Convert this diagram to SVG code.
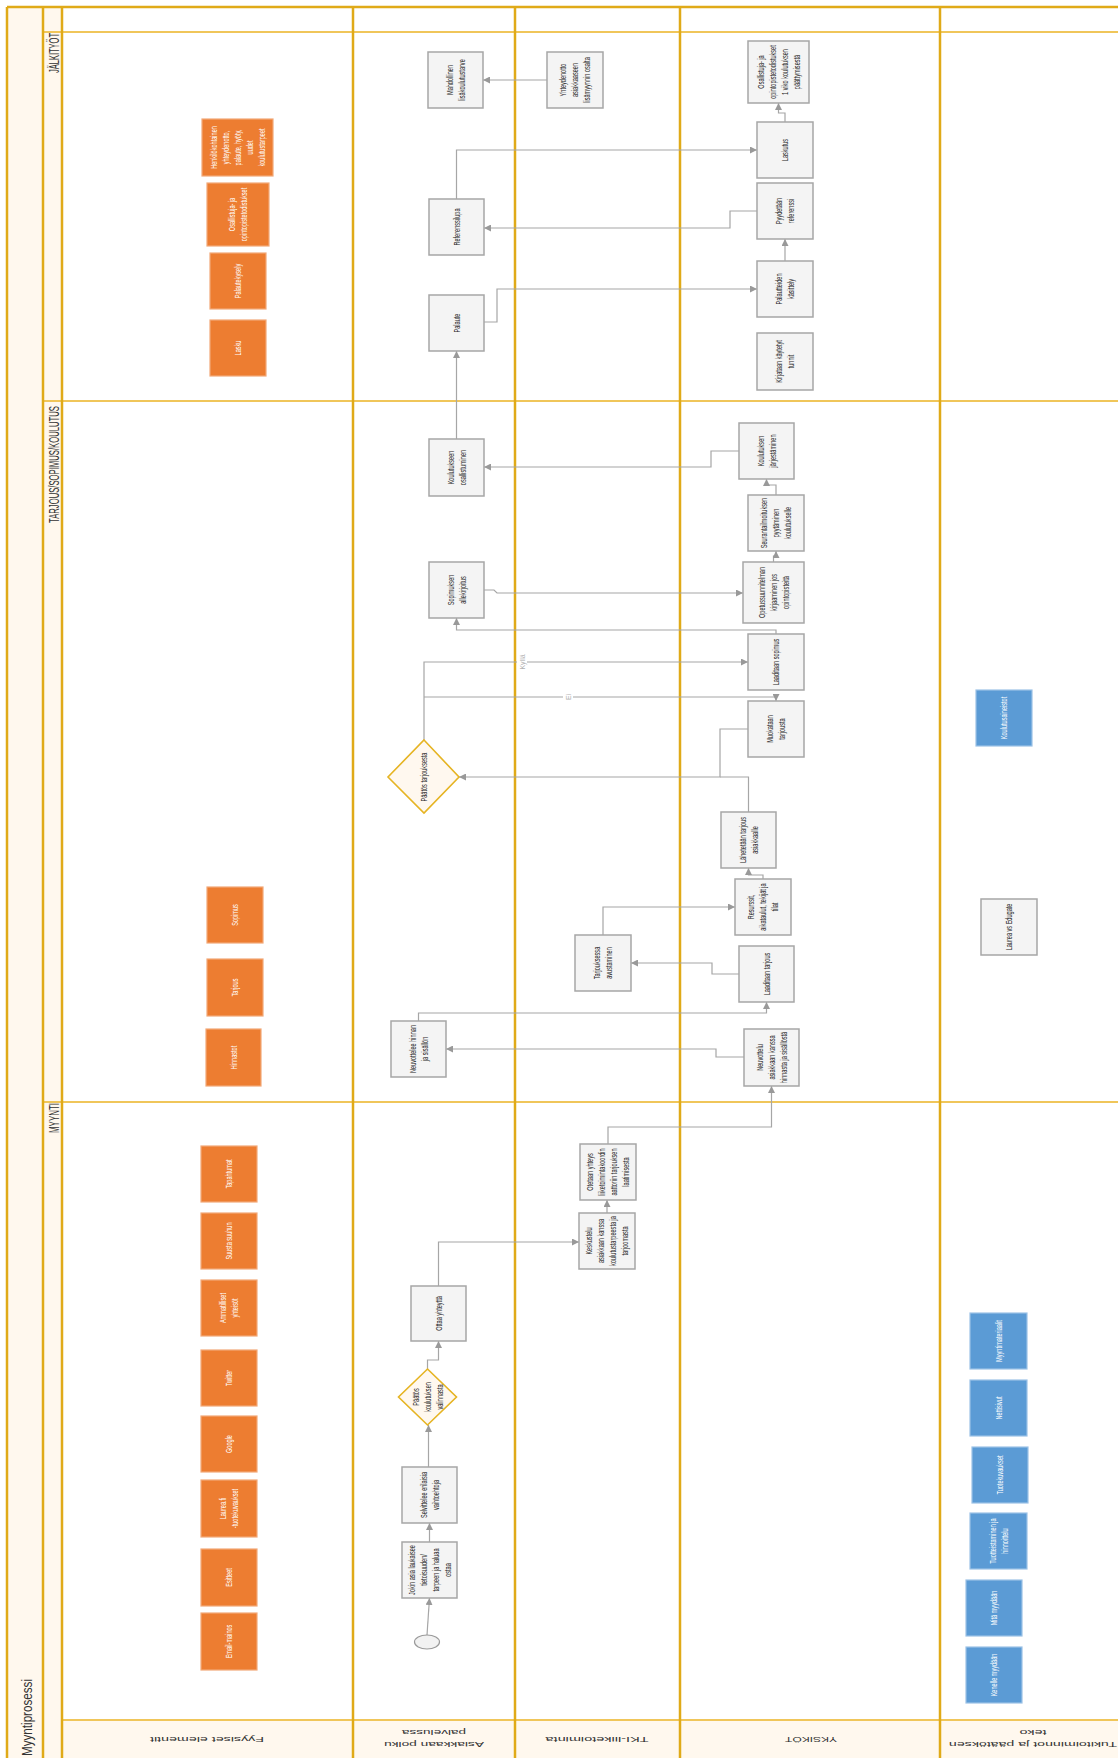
<svg xmlns="http://www.w3.org/2000/svg" width="1118" height="1758" viewBox="0 0 1118 1758">
<style>
.bg{fill:#fff}
.cream{fill:#FFF8EE}
.vl{stroke:#E0AA18;stroke-width:2.5;fill:none}
.hl{stroke:#F0C65A;stroke-width:2;fill:none}
.box{fill:#F4F4F4;stroke:#A6A6A6;stroke-width:1.5}
.or{fill:#ED7D31;stroke:#F2A878;stroke-width:1.2}
.bl{fill:#5B9BD5;stroke:#9CC2E6;stroke-width:1.2}
.dia{fill:#FFF8EF;stroke:#E6B422;stroke-width:1.6}
.t{font-family:"Liberation Sans",Arial,sans-serif;font-size:9px;fill:#262626;text-anchor:middle}
.w{fill:#fff}
.ph{font-family:"Liberation Sans",Arial,sans-serif;font-size:14px;fill:#333}
.ln{font-family:"Liberation Sans",Arial,sans-serif;font-size:12px;fill:#333;text-anchor:middle}
.c{fill:none;stroke:#A6A6A6;stroke-width:1.2;marker-end:url(#ah)}
.cn{fill:none;stroke:#A6A6A6;stroke-width:1.2}
.el{font-family:"Liberation Sans",Arial,sans-serif;font-size:7px;fill:#B0B0B0;text-anchor:middle}
</style>
<defs>
<marker id="ah" markerUnits="userSpaceOnUse" markerWidth="8" markerHeight="7" refX="7" refY="3.5" orient="auto">
<path d="M0,0 L7,3.5 L0,7 z" fill="#999"/>
</marker>
</defs>

<g id="pool">
<rect class="bg" x="7" y="7" width="1130" height="1760"/>
<rect class="cream" x="7" y="7" width="36" height="1760"/>
<rect class="cream" x="43" y="7" width="19" height="1760"/>
<rect class="cream" x="62" y="1720" width="1075" height="45"/>
<path class="hl" d="M43,32 H1137 M43,401 H1137 M43,1102 H1137 M62,1720 H1137"/>
<path class="vl" d="M7,7 H1137 M7,7 V1765 M43,7 V1765 M62,7 V1765 M353,7 V1765 M515,7 V1765 M680,7 V1765 M940,7 V1765"/>
</g>

<g id="labels">
<text class="ph" transform="translate(32 1756) rotate(-90) scale(1 1)" font-size="19" textLength="77" lengthAdjust="spacingAndGlyphs">Myyntiprosessi</text>
<text class="ph" transform="translate(59 73) rotate(-90)" textLength="40" lengthAdjust="spacingAndGlyphs">JÄLKITYÖT</text>
<text class="ph" transform="translate(59 523) rotate(-90)" textLength="117" lengthAdjust="spacingAndGlyphs">TARJOUS/SOPIMUS/KOULUTUS</text>
<text class="ph" transform="translate(59 1133) rotate(-90)" textLength="30" lengthAdjust="spacingAndGlyphs">MYYNTI</text>
<text class="ln" transform="translate(207 1740) rotate(180) scale(1 0.62)" y="4.2" textLength="114" lengthAdjust="spacingAndGlyphs">Fyysiset elementit</text>
<text class="ln" transform="translate(434 1739) rotate(180) scale(1 0.62)"><tspan x="0" y="-4.7" textLength="100" lengthAdjust="spacingAndGlyphs">Asiakkaan polku</tspan><tspan x="0" y="13.9" textLength="64" lengthAdjust="spacingAndGlyphs">palvelussa</tspan></text>
<text class="ln" transform="translate(597 1740) rotate(180) scale(1 0.62)" y="4.2" textLength="103" lengthAdjust="spacingAndGlyphs">TKI-liiketoiminta</text>
<text class="ln" transform="translate(811 1740) rotate(180) scale(1 0.62)" y="4.2" textLength="52" lengthAdjust="spacingAndGlyphs">YKSIKÖT</text>
<text class="ln" transform="translate(1033 1739) rotate(180) scale(1 0.62)"><tspan x="0" y="-4.7" textLength="168" lengthAdjust="spacingAndGlyphs">Tukitoiminnot ja päätöksen</tspan><tspan x="0" y="13.9" textLength="27" lengthAdjust="spacingAndGlyphs">teko</tspan></text>
</g>

<g id="connectors">
<path class="c" d="M547,80 H483"/>
<path class="c" d="M456.5,199 V150 H757"/>
<path class="c" d="M757,211 H730 V228 H484"/>
<path class="c" d="M484,322 H497 V289 H757"/>
<path class="c" d="M785,261 V239"/>
<path class="c" d="M785,122 V113 H778.5 V103"/>
<path class="c" d="M456.5,439 V351"/>
<path class="c" d="M739,451 H711 V467 H484"/>
<path class="c" d="M776,495 V485 H766.5 V479"/>
<path class="c" d="M773.5,562 V556 H776 V551"/>
<path class="c" d="M484,590 H494 L497,593 H743"/>
<path class="c" d="M776,634 V630 H456.5 V618"/>
<path class="c" d="M424,740 V662 H748"/>
<path class="c" d="M424,697 H776 V701"/>
<path class="c" d="M748,729 H720 V777 H459"/>
<path class="cn" d="M748.5,812 V777 H720"/>
<path class="c" d="M763,879 V875 H748.5 V868"/>
<path class="c" d="M603,935 V907 H735"/>
<path class="c" d="M739,974 H712 V963 H631"/>
<path class="c" d="M418.5,1021 V1013 H766.5 V1002"/>
<path class="c" d="M744,1057 H716 V1049 H446"/>
<path class="c" d="M608,1144 V1127 H771.5 V1086"/>
<path class="c" d="M607,1213 V1200"/>
<path class="c" d="M438.5,1286 V1242 H579"/>
<path class="c" d="M427.5,1369 V1360 H438.5 V1341"/>
<path class="c" d="M428.5,1467 V1425"/>
<path class="c" d="M429.5,1542 V1523"/>
<path class="c" d="M427,1635 L429.5,1598"/>
<rect x="517" y="651" width="10" height="22" fill="#fff"/>
<text class="el" transform="translate(524.5 662) rotate(-90)">Kyllä</text>
<rect x="563" y="690" width="10" height="14" fill="#fff"/>
<text class="el" transform="translate(570.5 697) rotate(-90)">Ei</text>
</g>

<g id="nodes">
<g id="o-henkilokohtainen"><rect class="or" x="202" y="119" width="71" height="57"/><text class="t w" transform="translate(237.5 147.5) rotate(-90) scale(0.62 1)"><tspan x="0" y="-20.8">Henkilökohtainen</tspan><tspan x="0" y="-8.8">yhteydenotto,</tspan><tspan x="0" y="3.2">palaute, hyöty,</tspan><tspan x="0" y="15.2">uudet</tspan><tspan x="0" y="27.2">koulutustarpeet</tspan></text></g>
<g id="o-todistukset"><rect class="or" x="207" y="183" width="62" height="63"/><text class="t w" transform="translate(238 214.5) rotate(-90) scale(0.62 1)"><tspan x="0" y="-2.8">Osallistuja- ja</tspan><tspan x="0" y="9.2">opintopistetodistukset</tspan></text></g>
<g id="o-palautekysely"><rect class="or" x="210" y="253" width="56" height="56"/><text class="t w" transform="translate(238 281) rotate(-90) scale(0.62 1)" y="3.2">Palautekysely</text></g>
<g id="o-lasku"><rect class="or" x="210" y="320" width="56" height="56"/><text class="t w" transform="translate(238 348) rotate(-90) scale(0.62 1)" y="3.2">Lasku</text></g>
<g id="o-sopimus"><rect class="or" x="207" y="887" width="56" height="56"/><text class="t w" transform="translate(235 915) rotate(-90) scale(0.62 1)" y="3.2">Sopimus</text></g>
<g id="o-tarjous"><rect class="or" x="207" y="959" width="56" height="57"/><text class="t w" transform="translate(235 987.5) rotate(-90) scale(0.62 1)" y="3.2">Tarjous</text></g>
<g id="o-hinnastot"><rect class="or" x="206" y="1029" width="55" height="57"/><text class="t w" transform="translate(233.5 1057.5) rotate(-90) scale(0.62 1)" y="3.2">Hinnastot</text></g>
<g id="o-tapahtumat"><rect class="or" x="201" y="1146" width="56" height="56"/><text class="t w" transform="translate(229 1174) rotate(-90) scale(0.62 1)" y="3.2">Tapahtumat</text></g>
<g id="o-suusta"><rect class="or" x="201" y="1213" width="56" height="56"/><text class="t w" transform="translate(229 1241) rotate(-90) scale(0.62 1)" y="3.2">Suusta suuhun</text></g>
<g id="o-ammatilliset"><rect class="or" x="201" y="1280" width="56" height="56"/><text class="t w" transform="translate(229 1308) rotate(-90) scale(0.62 1)"><tspan x="0" y="-2.8">Ammatilliset</tspan><tspan x="0" y="9.2">yhteisöt</tspan></text></g>
<g id="o-twitter"><rect class="or" x="201" y="1350" width="56" height="56"/><text class="t w" transform="translate(229 1378) rotate(-90) scale(0.62 1)" y="3.2">Twitter</text></g>
<g id="o-google"><rect class="or" x="201" y="1416" width="56" height="56"/><text class="t w" transform="translate(229 1444) rotate(-90) scale(0.62 1)" y="3.2">Google</text></g>
<g id="o-laureafi"><rect class="or" x="201" y="1480" width="56" height="57"/><text class="t w" transform="translate(229 1508.5) rotate(-90) scale(0.62 1)"><tspan x="0" y="-2.8">Laurea.fi</tspan><tspan x="0" y="9.2">-tuotekuvaukset</tspan></text></g>
<g id="o-esitteet"><rect class="or" x="201" y="1549" width="56" height="57"/><text class="t w" transform="translate(229 1577.5) rotate(-90) scale(0.62 1)" y="3.2">Esitteet</text></g>
<g id="o-email"><rect class="or" x="201" y="1613" width="56" height="57"/><text class="t w" transform="translate(229 1641.5) rotate(-90) scale(0.62 1)" y="3.2">Email-mainos</text></g>

<g id="n-mahdollinen"><rect class="box" x="428" y="52" width="55" height="56"/><text class="t" transform="translate(455.5 80) rotate(-90) scale(0.62 1)"><tspan x="0" y="-2.8">Mahdollinen</tspan><tspan x="0" y="9.2">lisäkoulutustarve</tspan></text></g>
<g id="n-referenssilupa"><rect class="box" x="429" y="199" width="55" height="56"/><text class="t" transform="translate(456.5 227) rotate(-90) scale(0.62 1)" y="3.2">Referenssilupa</text></g>
<g id="n-palaute"><rect class="box" x="429" y="295" width="55" height="56"/><text class="t" transform="translate(456.5 323) rotate(-90) scale(0.62 1)" y="3.2">Palaute</text></g>
<g id="n-yhteydenotto"><rect class="box" x="547" y="52" width="56" height="56"/><text class="t" transform="translate(575 80) rotate(-90) scale(0.62 1)"><tspan x="0" y="-8.8">Yhteydenotto</tspan><tspan x="0" y="3.2">asiakkaaseen</tspan><tspan x="0" y="15.2">lisämyynnin osalta</tspan></text></g>
<g id="n-todistukset"><rect class="box" x="748" y="41" width="61" height="62"/><text class="t" transform="translate(778.5 72) rotate(-90) scale(0.62 1)"><tspan x="0" y="-14.8">Osallistuja- ja</tspan><tspan x="0" y="-2.8">opintopistetodistukset</tspan><tspan x="0" y="9.2">1 viko koulutuksen</tspan><tspan x="0" y="21.2">päättymisestä</tspan></text></g>
<g id="n-laskutus"><rect class="box" x="757" y="122" width="56" height="56"/><text class="t" transform="translate(785 150) rotate(-90) scale(0.62 1)" y="3.2">Laskutus</text></g>
<g id="n-pyydetaan"><rect class="box" x="757" y="183" width="56" height="56"/><text class="t" transform="translate(785 211) rotate(-90) scale(0.62 1)"><tspan x="0" y="-2.8">Pyydetään</tspan><tspan x="0" y="9.2">referenssi</tspan></text></g>
<g id="n-palautteiden"><rect class="box" x="757" y="261" width="56" height="56"/><text class="t" transform="translate(785 289) rotate(-90) scale(0.62 1)"><tspan x="0" y="-2.8">Palautteiden</tspan><tspan x="0" y="9.2">käsittely</tspan></text></g>
<g id="n-kirjataan"><rect class="box" x="757" y="333" width="56" height="57"/><text class="t" transform="translate(785 361.5) rotate(-90) scale(0.62 1)"><tspan x="0" y="-2.8">Kirjataan käytetyt</tspan><tspan x="0" y="9.2">tunnit</tspan></text></g>

<g id="n-osallistuminen"><rect class="box" x="429" y="439" width="55" height="57"/><text class="t" transform="translate(456.5 467.5) rotate(-90) scale(0.62 1)"><tspan x="0" y="-2.8">Koulutukseen</tspan><tspan x="0" y="9.2">osallistuminen</tspan></text></g>
<g id="n-allekirjoitus"><rect class="box" x="429" y="562" width="55" height="56"/><text class="t" transform="translate(456.5 590) rotate(-90) scale(0.62 1)"><tspan x="0" y="-2.8">Sopimuksen</tspan><tspan x="0" y="9.2">allekirjoitus</tspan></text></g>
<g id="d-paatos-tarjous"><polygon class="dia" points="424,740 459,777 424,813 388,777"/><text class="t" transform="translate(424 777) rotate(-90) scale(0.62 1)" y="3.2">Päätös tarjouksesta</text></g>
<g id="n-neuvottelee"><rect class="box" x="391" y="1021" width="55" height="56"/><text class="t" transform="translate(418.5 1049) rotate(-90) scale(0.62 1)"><tspan x="0" y="-2.8">Neuvottelee hinnan</tspan><tspan x="0" y="9.2">ja sisällön</tspan></text></g>
<g id="n-jarjestaminen"><rect class="box" x="739" y="423" width="55" height="56"/><text class="t" transform="translate(766.5 451) rotate(-90) scale(0.62 1)"><tspan x="0" y="-2.8">Koulutuksen</tspan><tspan x="0" y="9.2">järjestäminen</tspan></text></g>
<g id="n-seuranta"><rect class="box" x="748" y="495" width="56" height="56"/><text class="t" transform="translate(776 523) rotate(-90) scale(0.62 1)"><tspan x="0" y="-8.8">Seurantailmoituksen</tspan><tspan x="0" y="3.2">pyytäminen</tspan><tspan x="0" y="15.2">koulutukselle</tspan></text></g>
<g id="n-opetus"><rect class="box" x="743" y="562" width="61" height="61"/><text class="t" transform="translate(773.5 592.5) rotate(-90) scale(0.62 1)"><tspan x="0" y="-8.8">Opetussuunnitelman</tspan><tspan x="0" y="3.2">kirjaaminen jos</tspan><tspan x="0" y="15.2">opintopisteitä</tspan></text></g>
<g id="n-laaditaan-sopimus"><rect class="box" x="748" y="634" width="56" height="56"/><text class="t" transform="translate(776 662) rotate(-90) scale(0.62 1)" y="3.2">Laaditaan sopimus</text></g>
<g id="n-muokataan"><rect class="box" x="748" y="701" width="56" height="56"/><text class="t" transform="translate(776 729) rotate(-90) scale(0.62 1)"><tspan x="0" y="-2.8">Muokataan</tspan><tspan x="0" y="9.2">tarjousta</tspan></text></g>
<g id="n-lahetetaan"><rect class="box" x="721" y="812" width="55" height="56"/><text class="t" transform="translate(748.5 840) rotate(-90) scale(0.62 1)"><tspan x="0" y="-2.8">Lähetetään tarjous</tspan><tspan x="0" y="9.2">asiakkaalle</tspan></text></g>
<g id="n-resurssit"><rect class="box" x="735" y="879" width="56" height="56"/><text class="t" transform="translate(763 907) rotate(-90) scale(0.62 1)"><tspan x="0" y="-8.8">Resurssit,</tspan><tspan x="0" y="3.2">aikataulut, tekijät ja</tspan><tspan x="0" y="15.2">tilat</tspan></text></g>
<g id="n-laaditaan-tarjous"><rect class="box" x="739" y="946" width="55" height="56"/><text class="t" transform="translate(766.5 974) rotate(-90) scale(0.62 1)" y="3.2">Laaditaan tarjous</text></g>
<g id="n-neuvottelu"><rect class="box" x="744" y="1029" width="55" height="57"/><text class="t" transform="translate(771.5 1057.5) rotate(-90) scale(0.62 1)"><tspan x="0" y="-8.8">Neuvottelu</tspan><tspan x="0" y="3.2">asiakkaan kanssa</tspan><tspan x="0" y="15.2">hinnasta ja sisällöstä</tspan></text></g>
<g id="n-avustaminen"><rect class="box" x="575" y="935" width="56" height="56"/><text class="t" transform="translate(603 963) rotate(-90) scale(0.62 1)"><tspan x="0" y="-2.8">Tarjouksessa</tspan><tspan x="0" y="9.2">avustaminen</tspan></text></g>
<g id="n-laurea-edugate"><rect class="box" x="981" y="899" width="56" height="56"/><text class="t" transform="translate(1009 927) rotate(-90) scale(0.62 1)" y="3.2">Laurea vs Edugate</text></g>
<g id="b-koulutusaineistot"><rect class="bl" x="976" y="690" width="56" height="56"/><text class="t w" transform="translate(1004 718) rotate(-90) scale(0.62 1)" y="3.2">Koulutusaineistot</text></g>

<g id="n-otetaan"><rect class="box" x="580" y="1144" width="56" height="56"/><text class="t" transform="translate(608 1172) rotate(-90) scale(0.62 1)"><tspan x="0" y="-14.8">Otetaan yhteys</tspan><tspan x="0" y="-2.8">liiketoimintakoordin</tspan><tspan x="0" y="9.2">aattoriin tarjouksen</tspan><tspan x="0" y="21.2">laatimisesta</tspan></text></g>
<g id="n-keskustelu"><rect class="box" x="579" y="1213" width="56" height="56"/><text class="t" transform="translate(607 1241) rotate(-90) scale(0.62 1)"><tspan x="0" y="-14.8">Keskustelu</tspan><tspan x="0" y="-2.8">asiakkaan kanssa</tspan><tspan x="0" y="9.2">koulutustarpeesta ja</tspan><tspan x="0" y="21.2">tarjoomasta</tspan></text></g>
<g id="n-ottaa"><rect class="box" x="411" y="1286" width="55" height="55"/><text class="t" transform="translate(438.5 1313.5) rotate(-90) scale(0.62 1)" y="3.2">Ottaa yhteyttä</text></g>
<g id="d-paatos-koulutus"><polygon class="dia" points="427.5,1369 456.5,1397 427.5,1425 398.5,1397"/><text class="t" transform="translate(427.5 1397) rotate(-90) scale(0.62 1)"><tspan x="0" y="-8.8">Päätös</tspan><tspan x="0" y="3.2">koulutuksen</tspan><tspan x="0" y="15.2">valinnasta</tspan></text></g>
<g id="n-selvittelee"><rect class="box" x="402" y="1467" width="55" height="56"/><text class="t" transform="translate(429.5 1495) rotate(-90) scale(0.62 1)"><tspan x="0" y="-2.8">Selvittelee erilaisia</tspan><tspan x="0" y="9.2">vaihtoehtoja</tspan></text></g>
<g id="n-jokin"><rect class="box" x="402" y="1542" width="55" height="56"/><text class="t" transform="translate(429.5 1570) rotate(-90) scale(0.62 1)"><tspan x="0" y="-14.8">Jokin asia laukaisee</tspan><tspan x="0" y="-2.8">tietoisuuden/</tspan><tspan x="0" y="9.2">tarpeen ja haluaa</tspan><tspan x="0" y="21.2">ostaa</tspan></text></g>
<g id="start"><ellipse cx="427" cy="1642" rx="12.5" ry="7" fill="#F2F2F2" stroke="#9A9A9A" stroke-width="1.2"/></g>

<g id="b-myyntimateriaalit"><rect class="bl" x="970" y="1313" width="57" height="56"/><text class="t w" transform="translate(998.5 1341) rotate(-90) scale(0.62 1)" y="3.2">Myyntimateriaalit</text></g>
<g id="b-nettisivut"><rect class="bl" x="970" y="1380" width="57" height="56"/><text class="t w" transform="translate(998.5 1408) rotate(-90) scale(0.62 1)" y="3.2">Nettisivut</text></g>
<g id="b-tuotekuvaukset"><rect class="bl" x="972" y="1447" width="56" height="56"/><text class="t w" transform="translate(1000 1475) rotate(-90) scale(0.62 1)" y="3.2">Tuotekuvaukset</text></g>
<g id="b-tuotteistaminen"><rect class="bl" x="970" y="1513" width="57" height="56"/><text class="t w" transform="translate(998.5 1541) rotate(-90) scale(0.62 1)"><tspan x="0" y="-2.8">Tuotteistaminen ja</tspan><tspan x="0" y="9.2">hinnoittelu</tspan></text></g>
<g id="b-mita"><rect class="bl" x="966" y="1580" width="56" height="56"/><text class="t w" transform="translate(994 1608) rotate(-90) scale(0.62 1)" y="3.2">Mitä myydään</text></g>
<g id="b-kenelle"><rect class="bl" x="966" y="1647" width="56" height="56"/><text class="t w" transform="translate(994 1675) rotate(-90) scale(0.62 1)" y="3.2">Kenelle myydään</text></g>
</g>
</svg>
